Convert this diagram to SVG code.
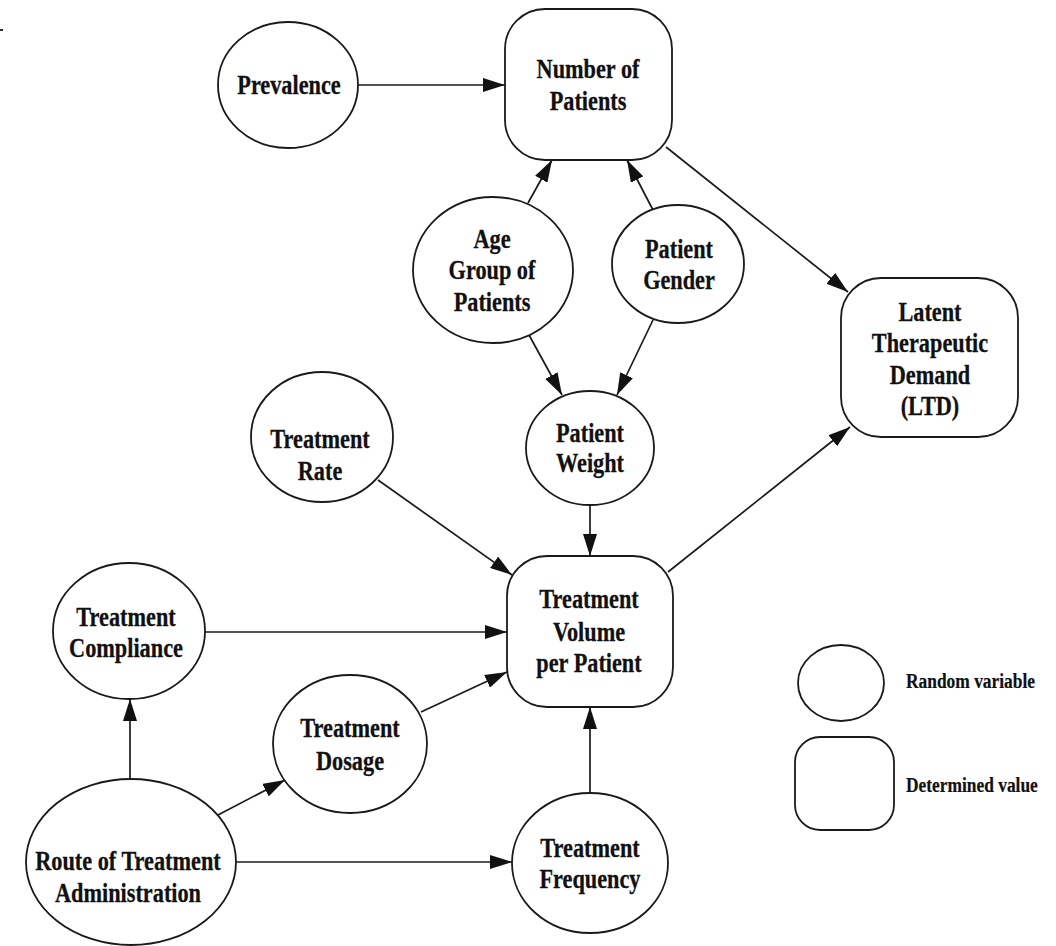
<svg xmlns="http://www.w3.org/2000/svg" width="1056" height="946" viewBox="0 0 1056 946">
<style>
.n{fill:#fff;stroke:#1a1a1a;stroke-width:1.8}
.t{font-family:"Liberation Serif","Times New Roman",serif;font-weight:bold;font-size:27.5px;fill:#111;stroke:#111;stroke-width:0.3;text-anchor:middle}
.l{font-family:"Liberation Serif","Times New Roman",serif;font-weight:bold;font-size:20px;fill:#111;stroke:#111;stroke-width:0.2}
.e{fill:none;stroke:#1a1a1a;stroke-width:1.7;marker-end:url(#ah)}
</style>
<defs>
<marker id="ah" markerUnits="userSpaceOnUse" markerWidth="23" markerHeight="14" refX="22" refY="7" orient="auto">
<path d="M0,0 L22,7 L0,14 z" fill="#111"/>
</marker>
</defs>
<rect x="0" y="29" width="3" height="2" fill="#333"/>
<g id="connectors">
<line class="e" x1="358" y1="85" x2="505" y2="85"/>
<line class="e" x1="528" y1="203" x2="552" y2="160"/>
<line class="e" x1="653" y1="210" x2="627" y2="160"/>
<line class="e" x1="666" y1="147" x2="848" y2="292"/>
<line class="e" x1="529" y1="335" x2="562" y2="395"/>
<line class="e" x1="653" y1="320" x2="617" y2="395"/>
<line class="e" x1="590" y1="504" x2="590" y2="556"/>
<line class="e" x1="378" y1="480" x2="512" y2="575"/>
<line class="e" x1="205" y1="632" x2="507" y2="632"/>
<line class="e" x1="421" y1="712" x2="507" y2="672"/>
<line class="e" x1="590" y1="793" x2="590" y2="707"/>
<line class="e" x1="668" y1="572" x2="850" y2="427"/>
<line class="e" x1="130" y1="780" x2="130" y2="699"/>
<line class="e" x1="218" y1="815" x2="285" y2="780"/>
<line class="e" x1="236" y1="862" x2="512" y2="862"/>
</g>
<g id="prevalence">
<ellipse class="n" cx="288" cy="85" rx="70" ry="63"/>
<text class="t" transform="translate(289,94) scale(0.81,1)">Prevalence</text>
</g>
<g id="number-of-patients">
<rect class="n" x="505" y="9" width="167" height="151" rx="40" ry="40"/>
<text class="t" transform="translate(588,78) scale(0.81,1)">Number of</text>
<text class="t" transform="translate(588,110) scale(0.81,1)">Patients</text>
</g>
<g id="age-group">
<ellipse class="n" cx="493" cy="270" rx="80" ry="73"/>
<text class="t" transform="translate(492,248) scale(0.81,1)">Age</text>
<text class="t" transform="translate(492,279) scale(0.81,1)">Group of</text>
<text class="t" transform="translate(492,311) scale(0.81,1)">Patients</text>
</g>
<g id="patient-gender">
<ellipse class="n" cx="678" cy="264" rx="66" ry="59"/>
<text class="t" transform="translate(679,258) scale(0.81,1)">Patient</text>
<text class="t" transform="translate(679,289) scale(0.81,1)">Gender</text>
</g>
<g id="ltd">
<rect class="n" x="841" y="278" width="177" height="159" rx="40" ry="40"/>
<text class="t" transform="translate(930,321) scale(0.81,1)">Latent</text>
<text class="t" transform="translate(930,352) scale(0.81,1)">Therapeutic</text>
<text class="t" transform="translate(930,384) scale(0.81,1)">Demand</text>
<text class="t" transform="translate(930,415) scale(0.81,1)">(LTD)</text>
</g>
<g id="treatment-rate">
<ellipse class="n" cx="322" cy="437" rx="71" ry="65"/>
<text class="t" transform="translate(320,448) scale(0.81,1)">Treatment</text>
<text class="t" transform="translate(320,480) scale(0.81,1)">Rate</text>
</g>
<g id="patient-weight">
<ellipse class="n" cx="590" cy="448" rx="64" ry="57"/>
<text class="t" transform="translate(590,442) scale(0.81,1)">Patient</text>
<text class="t" transform="translate(590,472) scale(0.81,1)">Weight</text>
</g>
<g id="treatment-volume">
<rect class="n" x="507" y="556" width="166" height="151" rx="40" ry="40"/>
<text class="t" transform="translate(589,608) scale(0.81,1)">Treatment</text>
<text class="t" transform="translate(589,641) scale(0.81,1)">Volume</text>
<text class="t" transform="translate(589,672) scale(0.81,1)">per Patient</text>
</g>
<g id="treatment-compliance">
<ellipse class="n" cx="129" cy="631" rx="76" ry="68"/>
<text class="t" transform="translate(126,626) scale(0.81,1)">Treatment</text>
<text class="t" transform="translate(126,657) scale(0.81,1)">Compliance</text>
</g>
<g id="treatment-dosage">
<ellipse class="n" cx="350" cy="744" rx="77" ry="69"/>
<text class="t" transform="translate(350,737) scale(0.81,1)">Treatment</text>
<text class="t" transform="translate(350,770) scale(0.81,1)">Dosage</text>
</g>
<g id="route">
<ellipse class="n" cx="131" cy="862" rx="105" ry="83"/>
<text class="t" transform="translate(128,870) scale(0.81,1)">Route of Treatment</text>
<text class="t" transform="translate(128,902) scale(0.81,1)">Administration</text>
</g>
<g id="treatment-frequency">
<ellipse class="n" cx="590" cy="863" rx="78" ry="70"/>
<text class="t" transform="translate(590,857) scale(0.81,1)">Treatment</text>
<text class="t" transform="translate(590,888) scale(0.81,1)">Frequency</text>
</g>
<g id="legend">
<ellipse class="n" cx="841" cy="683" rx="43" ry="38"/>
<text class="l" transform="translate(906,688) scale(0.87,1)">Random variable</text>
<rect class="n" x="795" y="737" width="99" height="93" rx="25" ry="25"/>
<text class="l" transform="translate(906,792) scale(0.87,1)">Determined value</text>
</g>
</svg>
